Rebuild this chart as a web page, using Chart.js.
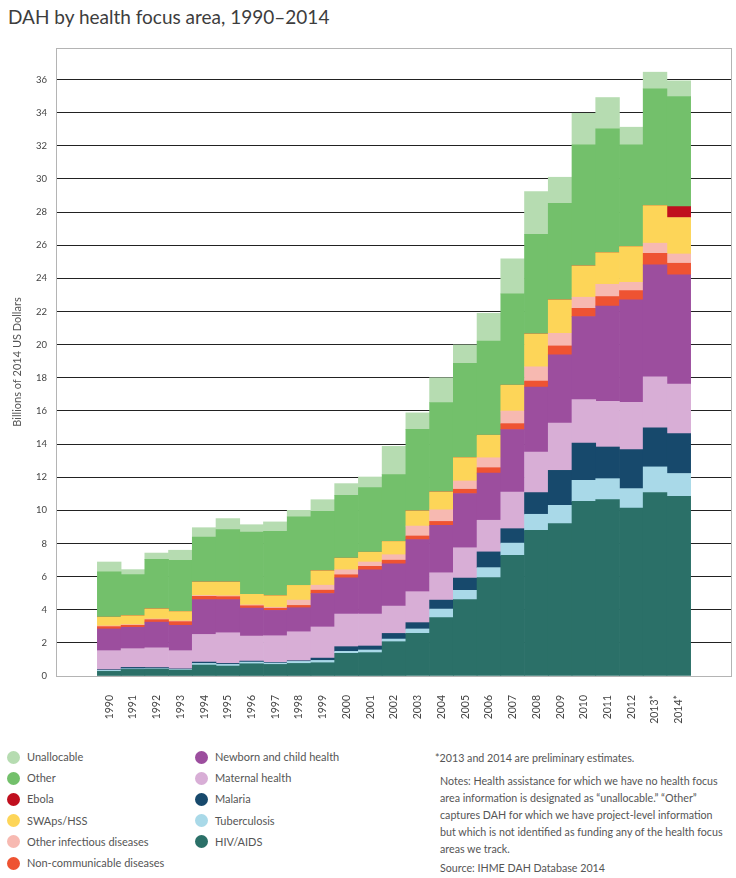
<!DOCTYPE html>
<html>
<head>
<meta charset="utf-8">
<title>DAH by health focus area, 1990–2014</title>
<script src="https://cdn.jsdelivr.net/npm/chart.js@4.4.1/dist/chart.umd.min.js"></script>
<style>
  body { margin: 0; background: #fff; font-family: Lato, 'Open Sans', sans-serif; }
  #page { position: relative; width: 736px; height: 878px; overflow: hidden; }
  #title { position: absolute; left: 8px; top: 7px; font-size: 19px; line-height: 19px; color: #3d3d3d; white-space: nowrap; }
  #chart-box { position: absolute; left: 0; top: 0; width: 736px; height: 730px; }
  .legend-item { position: absolute; font-size: 11px; line-height: 14px; color: #555; white-space: nowrap; }
  .dot { position: absolute; width: 13px; height: 13px; border-radius: 50%; }
  .note { position: absolute; font-size: 10.7px; line-height: 17px; color: #555; white-space: nowrap; }
</style>
</head>
<body>
<div id="page">
  <div id="title">DAH by health focus area, 1990–2014</div>
  <div id="chart-box"><canvas id="dahChart" width="736" height="730"></canvas></div>
  <div id="legend"></div>
  <div class="note" style="left:435px; top:749px;">*2013 and 2014 are preliminary estimates.</div>
  <div class="note" style="left:440px; top:772px;">Notes: Health assistance for which we have no health focus<br>area information is designated as “unallocable.” “Other”<br>captures DAH for which we have project-level information<br>but which is not identified as funding any of the health focus<br>areas we track.</div>
  <div class="note" style="left:440px; top:859px;">Source: IHME DAH Database 2014</div>
</div>

<script>
'use strict';

// DATA (billions of 2014 US dollars)
let categories = ['1990', '1991', '1992', '1993', '1994', '1995', '1996', '1997', '1998', '1999',
  '2000', '2001', '2002', '2003', '2004', '2005', '2006', '2007', '2008', '2009',
  '2010', '2011', '2012', '2013*', '2014*'];

let hivAids = [0.28, 0.40, 0.42, 0.36, 0.66, 0.60, 0.74, 0.70, 0.76, 0.80,
  1.37, 1.41, 2.07, 2.58, 3.52, 4.61, 5.94, 7.28, 8.79, 9.20,
  10.54, 10.64, 10.14, 11.07, 10.85];
let tuberculosis = [0.06, 0.04, 0.03, 0.04, 0.10, 0.10, 0.10, 0.08, 0.12, 0.14,
  0.12, 0.16, 0.16, 0.26, 0.52, 0.56, 0.60, 0.74, 0.97, 1.10,
  1.27, 1.27, 1.17, 1.55, 1.37];
let malaria = [0.04, 0.08, 0.06, 0.03, 0.08, 0.06, 0.06, 0.04, 0.04, 0.14,
  0.28, 0.24, 0.34, 0.38, 0.54, 0.74, 0.95, 0.87, 1.31, 2.11,
  2.25, 1.91, 2.35, 2.35, 2.41];
let maternalHealth = [1.15, 1.13, 1.19, 1.10, 1.67, 1.85, 1.51, 1.61, 1.75, 1.88,
  1.97, 1.93, 1.65, 1.87, 1.65, 1.83, 1.91, 2.21, 2.45, 2.86,
  2.62, 2.76, 2.86, 3.08, 2.98];
let newbornChild = [1.31, 1.29, 1.55, 1.53, 2.10, 2.00, 1.69, 1.53, 1.45, 2.02,
  2.18, 2.66, 2.55, 3.14, 2.86, 3.27, 2.85, 3.77, 3.92, 4.11,
  5.01, 5.75, 6.18, 6.76, 6.60];
let nonCommunicable = [0.14, 0.12, 0.15, 0.22, 0.20, 0.18, 0.14, 0.13, 0.14, 0.20,
  0.19, 0.22, 0.22, 0.22, 0.24, 0.26, 0.32, 0.36, 0.36, 0.54,
  0.50, 0.57, 0.56, 0.70, 0.70];
let otherInfectious = [0.04, 0.04, 0.04, 0.04, 0.05, 0.05, 0.05, 0.06, 0.32, 0.30,
  0.30, 0.26, 0.33, 0.60, 0.70, 0.50, 0.60, 0.76, 0.86, 0.76,
  0.67, 0.74, 0.50, 0.61, 0.56];
let swapsHss = [0.53, 0.54, 0.61, 0.57, 0.81, 0.83, 0.64, 0.70, 0.89, 0.87,
  0.70, 0.59, 0.80, 0.91, 1.08, 1.41, 1.36, 1.56, 1.98, 2.02,
  1.89, 1.91, 2.16, 2.27, 2.20];
let ebola = [0, 0, 0, 0, 0, 0, 0, 0, 0, 0,
  0, 0, 0, 0, 0, 0, 0, 0, 0, 0,
  0, 0, 0, 0, 0.66];
let otherArea = [2.73, 2.48, 2.99, 3.09, 2.72, 3.16, 3.76, 3.88, 4.13, 3.59,
  3.80, 3.90, 4.03, 4.93, 5.39, 5.69, 5.69, 5.51, 6.02, 5.83,
  7.30, 7.47, 6.13, 7.04, 6.64];
let unallocable = [0.60, 0.30, 0.38, 0.61, 0.56, 0.67, 0.44, 0.57, 0.40, 0.70,
  0.70, 0.64, 1.71, 0.99, 1.50, 1.11, 1.67, 2.11, 2.58, 1.57,
  1.91, 1.89, 1.07, 1.01, 0.95];

let yTicks = [0, 2, 4, 6, 8, 10, 12, 14, 16, 18, 20, 22, 24, 26, 28, 30, 32, 34, 36];

// series, bottom of the stack first
let seriesList = [
  { name: 'HIV/AIDS', values: hivAids, color: '#2b7068' },
  { name: 'Tuberculosis', values: tuberculosis, color: '#a9d9e8' },
  { name: 'Malaria', values: malaria, color: '#17496c' },
  { name: 'Maternal health', values: maternalHealth, color: '#d8aed6' },
  { name: 'Newborn and child health', values: newbornChild, color: '#9c4e9e' },
  { name: 'Non-communicable diseases', values: nonCommunicable, color: '#ee5332' },
  { name: 'Other infectious diseases', values: otherInfectious, color: '#f7b9b1' },
  { name: 'SWAps/HSS', values: swapsHss, color: '#fdd558' },
  { name: 'Ebola', values: ebola, color: '#c00f1e' },
  { name: 'Other', values: otherArea, color: '#73c06b' },
  { name: 'Unallocable', values: unallocable, color: '#b6dcb1' }
];

// legend layout: two columns, read top to bottom
let legendColumns = [
  ['Unallocable', 'Other', 'Ebola', 'SWAps/HSS', 'Other infectious diseases', 'Non-communicable diseases'],
  ['Newborn and child health', 'Maternal health', 'Malaria', 'Tuberculosis', 'HIV/AIDS']
];

// x axis: one unit per bar, with 29px of empty frame left and right
let sideGap = 29 / 24.72;

// frame around the plot, drawn under the bars
let frameBox = {
  id: 'frameBox',
  beforeDatasetsDraw(chart) {
    let ctx = chart.ctx;
    let a = chart.chartArea;
    ctx.save();
    ctx.strokeStyle = '#b4b4b4';
    ctx.lineWidth = 1;
    ctx.strokeRect(Math.round(a.left) + 0.5, Math.round(a.top) + 0.5,
      Math.round(a.right - a.left) - 1, Math.round(a.bottom - a.top));
    ctx.restore();
  }
};

let datasets = seriesList.map(function (s) {
  return {
    label: s.name,
    data: s.values.map(function (v, i) { return { x: i, y: v }; }),
    backgroundColor: s.color,
    borderWidth: 0,
    barPercentage: 1,
    categoryPercentage: 1
  };
});

let canvasElem = document.getElementById('dahChart').getContext('2d');

new Chart(canvasElem, {
  type: 'bar',
  data: { datasets: datasets },
  plugins: [frameBox],
  options: {
    responsive: false,
    animation: false,
    layout: { padding: { top: 48, right: 4, left: 0, bottom: 0 } },
    plugins: {
      legend: { display: false },
      tooltip: { enabled: false }
    },
    scales: {
      x: {
        type: 'linear',
        stacked: true,
        min: -0.5 - sideGap,
        max: categories.length - 0.5 + sideGap,
        grid: { display: false },
        border: { display: false },
        afterBuildTicks: function (scale) {
          scale.ticks = categories.map(function (c, i) { return { value: i }; });
        },
        afterFit: function (scale) { scale.height = 54; },
        ticks: {
          autoSkip: false,
          minRotation: 90,
          maxRotation: 90,
          padding: 11,
          color: '#444',
          font: { family: 'Lato', size: 10.5 },
          callback: function (value) { return categories[value] || ''; }
        }
      },
      y: {
        stacked: true,
        min: 0,
        max: 37.9,
        afterBuildTicks: function (scale) {
          scale.ticks = yTicks.map(function (v) { return { value: v }; });
        },
        afterFit: function (scale) { scale.width = 56; },
        border: { display: false },
        grid: {
          drawTicks: false,
          lineWidth: 1,
          color: function (ctx) { return ctx.tick && ctx.tick.value === 0 ? 'rgba(0,0,0,0)' : '#222'; }
        },
        ticks: {
          padding: 9,
          color: '#444',
          font: { family: 'Lato', size: 9.5 }
        },
        title: {
          display: true,
          text: 'Billions of 2014 US Dollars',
          color: '#555',
          font: { family: 'Lato', size: 11 },
          padding: { top: 11, bottom: 0 }
        }
      }
    }
  }
});

// LEGEND
let legendElem = document.getElementById('legend');
let colorByName = {};
seriesList.forEach(function (s) { colorByName[s.name] = s.color; });

let columnDotX = [7, 195];
let columnTextX = [27, 215];
legendColumns.forEach(function (names, col) {
  names.forEach(function (name, row) {
    let cy = 757 + row * 21.2;
    let dot = document.createElement('div');
    dot.className = 'dot';
    dot.style.left = columnDotX[col] + 'px';
    dot.style.top = (cy - 6.5) + 'px';
    dot.style.background = colorByName[name];
    legendElem.appendChild(dot);

    let label = document.createElement('div');
    label.className = 'legend-item';
    label.style.left = columnTextX[col] + 'px';
    label.style.top = (cy - 7) + 'px';
    label.textContent = name;
    legendElem.appendChild(label);
  });
});
</script>
</body>
</html>
